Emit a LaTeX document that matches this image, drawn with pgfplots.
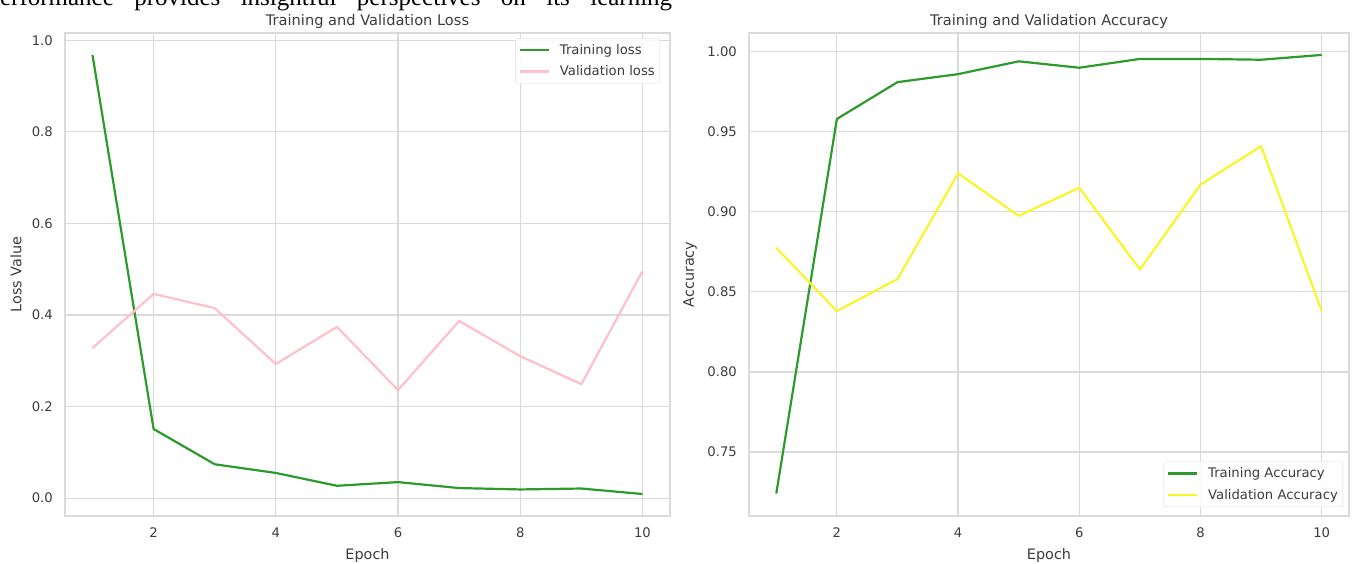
\documentclass[border=0pt]{standalone}
\usepackage{pgfplots}
\pgfplotsset{compat=1.18}
\usepackage{fontspec}
\setmainfont{DejaVu Sans}
\newfontfamily\serif{Liberation Serif}
\definecolor{txt}{RGB}{60,60,60}
\definecolor{gridc}{RGB}{218,218,218}
\definecolor{trainc}{RGB}{44,155,44}
\definecolor{pinkc}{RGB}{255,192,203}
\definecolor{yellc}{RGB}{250,245,40}
\pgfplotsset{
  mystyle/.style={
    scale only axis,
    height=483pt,
    xmin=0.55, xmax=10.45,
    xtick={2,4,6,8,10},
    grid=major,
    major grid style={draw=gridc, line width=1.2pt},
    axis line style={draw=gridc, line width=1.4pt},
    major tick length=0pt,
    tick label style={font=\fontsize{13.2}{15}\selectfont, text=txt},
    yticklabel style={inner sep=0pt, xshift=-12pt},
    xticklabel style={inner sep=0pt, yshift=-12pt},
    /pgf/number format/assume math mode=true,
    label style={font=\fontsize{14.4}{16}\selectfont, text=txt},
    title style={font=\fontsize{14.6}{16}\selectfont, text=txt, inner sep=0pt, yshift=-2pt},
    xlabel style={at={(axis description cs:0.5,-0.081)}, anchor=center, inner sep=0pt},
    legend style={font=\fontsize{13.2}{15}\selectfont, text=txt, draw=gridc, rounded corners=2pt, fill=white, fill opacity=0.85, text opacity=1, inner xsep=3pt, inner ysep=4pt, row sep=6pt},
    legend cell align=left,
    legend image code/.code={\draw[##1, line width=2.4pt] (0pt,0pt) -- (29pt,0pt); \path (37pt,0pt);},
    every axis plot/.append style={line width=2.2pt, line join=round},
  }
}
\begin{document}
\begin{tikzpicture}[x=1pt,y=1pt]
\useasboundingbox (0,0) rectangle (1353,564);
\node[anchor=base west, inner sep=0pt, font=\serif\fontsize{25}{27}\selectfont] at (-14,558)
  {\makebox[686pt][s]{Performance provides insightful perspectives on its learning}};
\begin{axis}[mystyle,
  at={(65pt,48pt)}, anchor=south west,
  width=605pt,
  ymin=-0.039, ymax=1.016,
  ytick={0,0.2,0.4,0.6,0.8,1.0},
  yticklabels={0.0,0.2,0.4,0.6,0.8,1.0},
  title={Training and Validation Loss},
  xlabel={Epoch}, ylabel={Loss Value},
  ylabel style={at={(axis description cs:-0.081,0.5)}, anchor=center, inner sep=0pt},
  legend style={at={(1,1)}, anchor=north east, xshift=-10pt, yshift=-5pt},
]
\addplot[trainc] coordinates {(1,0.968) (2,0.151) (3,0.074) (4,0.055) (5,0.027) (6,0.035) (7,0.022) (8,0.019) (9,0.021) (10,0.009)};
\addlegendentry{Training loss}
\addplot[pinkc] coordinates {(1,0.328) (2,0.446) (3,0.415) (4,0.293) (5,0.374) (6,0.236) (7,0.387) (8,0.310) (9,0.249) (10,0.496)};
\addlegendentry{Validation loss}
\end{axis}
\begin{axis}[mystyle,
  at={(749pt,48pt)}, anchor=south west,
  width=600pt,
  ymin=0.710, ymax=1.0117,
  ytick={0.75,0.80,0.85,0.90,0.95,1.00},
  yticklabels={0.75,0.80,0.85,0.90,0.95,1.00},
  title={Training and Validation Accuracy},
  xlabel={Epoch}, ylabel={Accuracy},
  ylabel style={at={(axis description cs:-0.098,0.5)}, anchor=center, inner sep=0pt},
  legend style={at={(1,0)}, anchor=south east, xshift=-6pt, yshift=9pt},
]
\addplot[trainc] coordinates {(1,0.724) (2,0.958) (3,0.981) (4,0.986) (5,0.994) (6,0.990) (7,0.9955) (8,0.9955) (9,0.995) (10,0.998)};
\addlegendentry{Training Accuracy}
\addplot[yellc] coordinates {(1,0.8775) (2,0.838) (3,0.858) (4,0.924) (5,0.8975) (6,0.915) (7,0.864) (8,0.917) (9,0.941) (10,0.838)};
\addlegendentry{Validation Accuracy}
\end{axis}
\end{tikzpicture}
\end{document}
